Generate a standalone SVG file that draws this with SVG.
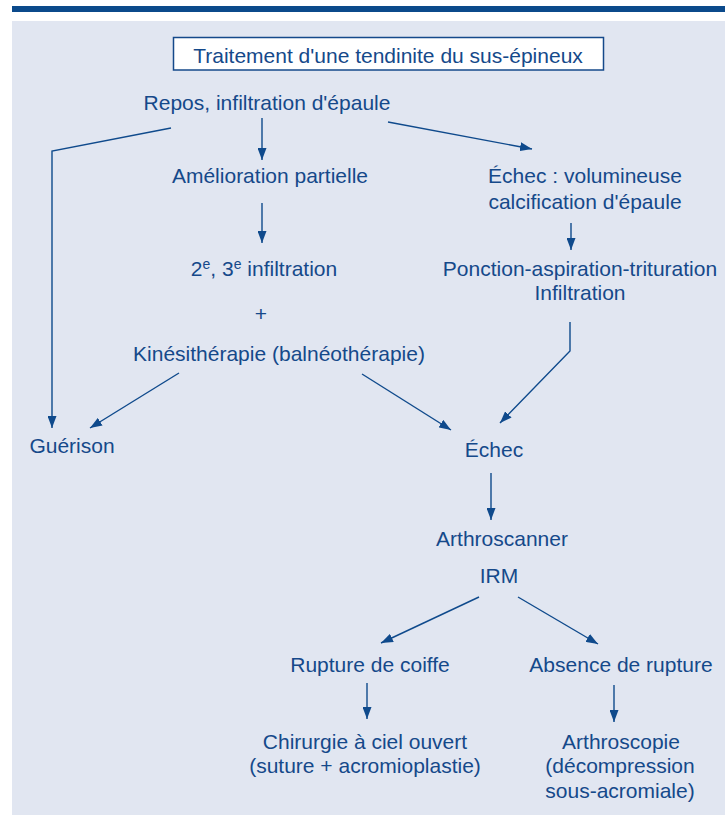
<svg xmlns="http://www.w3.org/2000/svg" width="725" height="819" viewBox="0 0 725 819">
  <style>
    .t { font-family: "Liberation Sans", Arial, Helvetica, sans-serif; font-size: 21px; fill: #15498a; text-anchor: middle; }
    .sup { font-size: 14px; }
    .c { stroke: #0f4a8c; stroke-width: 1.4; fill: none; }
  </style>
  <defs>
    <marker id="arrow" markerUnits="userSpaceOnUse" markerWidth="13" markerHeight="9" refX="12" refY="4.5" orient="auto">
      <path d="M0,0 L12,4.5 L0,9 z" fill="#0f4a8c"/>
    </marker>
  </defs>

  <!-- page frame -->
  <rect x="12" y="6" width="713" height="6" fill="#0b4a8b"/>
  <rect x="12" y="21" width="713" height="794" fill="#e1e6f1"/>

  <g id="title">
    <rect x="173.5" y="37.5" width="430" height="32.5" fill="#ffffff" stroke="#15498a" stroke-width="1.5"/>
    <text class="t" x="388" y="63">Traitement d'une tendinite du sus-épineux</text>
  </g>

  <g id="repos"><text class="t" x="267" y="110">Repos, infiltration d'épaule</text></g>
  <g id="amelioration"><text class="t" x="270" y="183">Amélioration partielle</text></g>
  <g id="infiltration2">
    <text class="t" x="264" y="276">2<tspan class="sup" dy="-7">e</tspan><tspan dy="7">, 3</tspan><tspan class="sup" dy="-7">e</tspan><tspan dy="7"> infiltration</tspan></text>
  </g>
  <g id="plus"><text class="t" x="261" y="321">+</text></g>
  <g id="kine"><text class="t" x="279" y="361">Kinésithérapie (balnéothérapie)</text></g>
  <g id="guerison"><text class="t" x="72" y="453">Guérison</text></g>
  <g id="echec-calcif">
    <text class="t" x="585" y="183">Échec : volumineuse</text>
    <text class="t" x="585" y="209">calcification d'épaule</text>
  </g>
  <g id="ponction">
    <text class="t" x="580" y="276">Ponction-aspiration-trituration</text>
    <text class="t" x="580" y="300">Infiltration</text>
  </g>
  <g id="echec"><text class="t" x="494" y="457">Échec</text></g>
  <g id="imagerie">
    <text class="t" x="502" y="546">Arthroscanner</text>
    <text class="t" x="499" y="583">IRM</text>
  </g>
  <g id="rupture"><text class="t" x="370" y="672">Rupture de coiffe</text></g>
  <g id="absence"><text class="t" x="621" y="672">Absence de rupture</text></g>
  <g id="chirurgie">
    <text class="t" x="365" y="749">Chirurgie à ciel ouvert</text>
    <text class="t" x="365" y="773">(suture + acromioplastie)</text>
  </g>
  <g id="arthroscopie">
    <text class="t" x="621" y="749">Arthroscopie</text>
    <text class="t" x="620" y="773">(décompression</text>
    <text class="t" x="620" y="798">sous-acromiale)</text>
  </g>

  <g id="connectors">
    <line class="c" x1="262" y1="118" x2="262" y2="160" marker-end="url(#arrow)"/>
    <polyline class="c" points="171,128 52,151 52,428" marker-end="url(#arrow)"/>
    <line class="c" x1="388" y1="122" x2="532" y2="149" marker-end="url(#arrow)"/>
    <line class="c" x1="262" y1="203" x2="262" y2="243" marker-end="url(#arrow)"/>
    <line class="c" x1="571" y1="223" x2="571" y2="250" marker-end="url(#arrow)"/>
    <line class="c" x1="179" y1="373" x2="90" y2="428" marker-end="url(#arrow)"/>
    <line class="c" x1="362" y1="374" x2="451" y2="430" marker-end="url(#arrow)"/>
    <polyline class="c" points="570,322 570,351 500,423" marker-end="url(#arrow)"/>
    <line class="c" x1="491" y1="473" x2="491" y2="520" marker-end="url(#arrow)"/>
    <line class="c" x1="479" y1="597" x2="381" y2="643" marker-end="url(#arrow)"/>
    <line class="c" x1="518" y1="597" x2="598" y2="644" marker-end="url(#arrow)"/>
    <line class="c" x1="367" y1="683" x2="367" y2="719" marker-end="url(#arrow)"/>
    <line class="c" x1="614" y1="685" x2="614" y2="722" marker-end="url(#arrow)"/>
  </g>
</svg>
